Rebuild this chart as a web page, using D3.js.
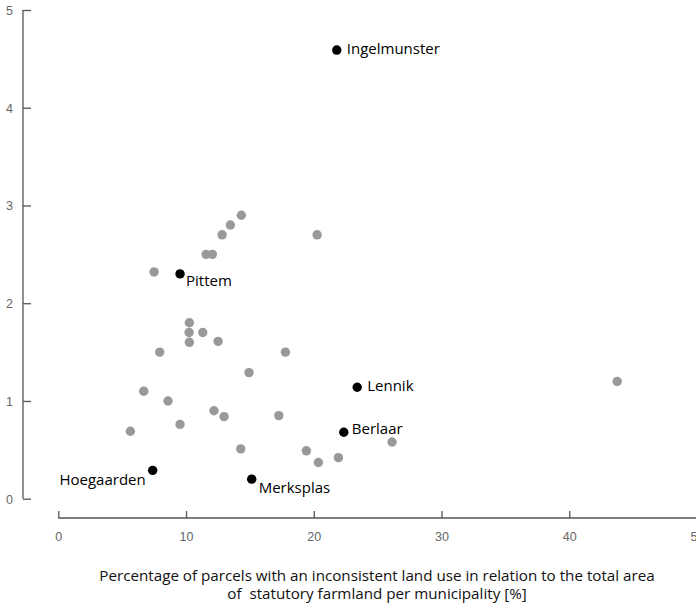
<!DOCTYPE html>
<html>
<head>
<meta charset="utf-8">
<script src="https://cdn.jsdelivr.net/npm/d3@7"></script>
<style>
  html, body { margin: 0; padding: 0; background: #fff; }
  svg { display: block; font-family: "Open Sans", "Noto Sans", sans-serif; }
</style>
</head>
<body>
<svg id="chart" width="696" height="609"></svg>
<script>
// Other municipalities (unlabelled, grey)
const otherX = [7.5, 11.57, 12.06, 12.82, 13.47, 14.33, 20.26,
                10.26, 10.24, 11.31, 10.26, 12.51, 7.94, 17.78, 14.93,
                6.69, 8.59, 12.19, 12.98, 17.26, 5.64, 9.53, 14.28,
                19.42, 20.36, 21.93, 26.13, 43.75];
const otherY = [2.32, 2.5, 2.5, 2.7, 2.8, 2.9, 2.7,
                1.8, 1.7, 1.7, 1.6, 1.61, 1.5, 1.5, 1.29,
                1.1, 1.0, 0.9, 0.84, 0.85, 0.69, 0.76, 0.51,
                0.49, 0.37, 0.42, 0.58, 1.2];

// Highlighted municipalities
const namedLabels = ["Ingelmunster", "Pittem", "Lennik", "Berlaar", "Hoegaarden", "Merksplas"];
const namedX = [21.8, 9.53, 23.4, 22.35, 7.39, 15.14];
const namedY = [4.59, 2.3, 1.14, 0.68, 0.29, 0.2];

const xTicks = [0, 10, 20, 30, 40, 50];
const yTicks = [0, 1, 2, 3, 4, 5];
const xTitle = ["Percentage of parcels with an inconsistent land use in relation to the total area",
                "of  statutory farmland per municipality [%]"];

const svg = d3.select("#chart");
const axisColor = "#555";
const tickText = "#666";

const x = d3.scaleLinear().domain([0, 50]).range([58.3, 697]);
const y = d3.scaleLinear().domain([0, 5]).range([498.7, 10]);

// Y axis: line at the left with ticks pointing right
const yAxisG = svg.append("g").attr("transform", "translate(23,0)");
yAxisG.call(d3.axisRight(y).tickValues(yTicks).tickSize(8).tickFormat(""));
yAxisG.select(".domain").attr("d", `M0,${y(5)}V${y(0)}`);
yAxisG.selectAll("path, line").attr("stroke", axisColor).attr("stroke-width", 1.3);
yAxisG.selectAll(".tick").append("text")
  .attr("x", -10).attr("dy", "0.35em")
  .attr("text-anchor", "end")
  .attr("fill", tickText).attr("font-size", 12.5)
  .text(d => d);

// X axis: ticks pointing up, labels below
const xAxisG = svg.append("g").attr("transform", "translate(0,518)");
xAxisG.call(d3.axisTop(x).tickValues(xTicks).tickSize(7).tickFormat(""));
xAxisG.select(".domain").attr("d", `M${x(0)},0H696`);
xAxisG.selectAll("path, line").attr("stroke", axisColor).attr("stroke-width", 1.3);
xAxisG.selectAll(".tick").append("text")
  .attr("y", 19).attr("dy", "0.35em")
  .attr("text-anchor", "middle")
  .attr("fill", tickText).attr("font-size", 12.5)
  .text(d => d);

// Axis title, two centred lines
svg.append("g").selectAll("text").data(xTitle).join("text")
  .attr("x", 377).attr("y", (d, i) => 581 + i * 18)
  .attr("text-anchor", "middle")
  .attr("font-size", 15.2)
  .attr("fill", "#111")
  .style("white-space", "pre")
  .text(d => d);

// Grey points
svg.append("g").selectAll("circle").data(d3.range(otherX.length)).join("circle")
  .attr("cx", i => x(otherX[i]))
  .attr("cy", i => y(otherY[i]))
  .attr("r", 4.7)
  .attr("fill", "#999");

// Labelled black points
const labelOffsets = {
  Ingelmunster: [10, 4, "start"],
  Pittem: [6, 12, "start"],
  Lennik: [10, 4, "start"],
  Berlaar: [8, 2, "start"],
  Hoegaarden: [-7, 15, "end"],
  Merksplas: [7, 14, "start"]
};
const named = svg.append("g").selectAll("g").data(d3.range(namedLabels.length)).join("g")
  .attr("transform", i => `translate(${x(namedX[i])},${y(namedY[i])})`);
named.append("circle").attr("r", 4.7).attr("fill", "#000");
named.append("text")
  .attr("x", i => labelOffsets[namedLabels[i]][0])
  .attr("y", i => labelOffsets[namedLabels[i]][1])
  .attr("text-anchor", i => labelOffsets[namedLabels[i]][2])
  .attr("font-size", 15)
  .attr("fill", "#000")
  .text(i => namedLabels[i]);
</script>
</body>
</html>
